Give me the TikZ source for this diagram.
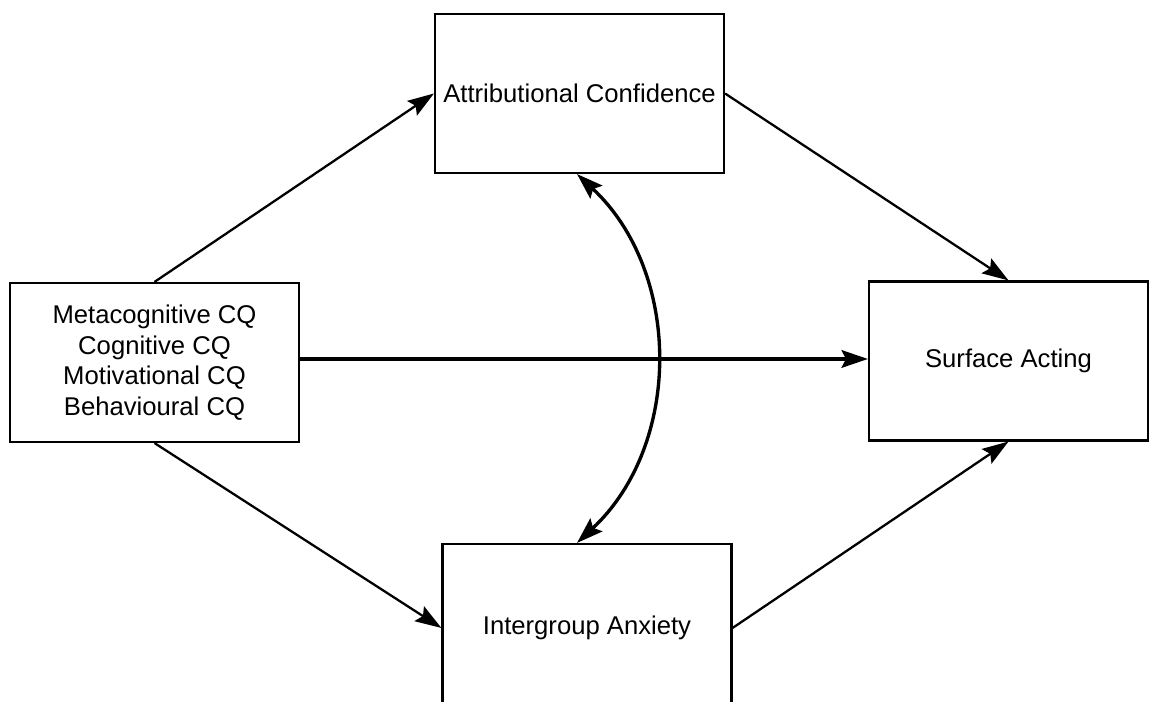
\documentclass[tikz,border=0pt]{standalone}
\usepackage{fontspec}
\setmainfont{Liberation Sans}
\usetikzlibrary{arrows.meta}

\begin{document}
\begin{tikzpicture}[
    construct/.style={draw, line width=1.2pt, minimum width=5.78cm, minimum height=3.18cm, align=center, font=\fontsize{14.6}{17.4}\selectfont},
    >={Stealth[length=15pt,width=10pt,inset=2.5pt]},
    arrow/.style={->, line width=1.3pt}
]
\useasboundingbox (0,0) rectangle (23,14.04);
\node[construct] (cq) at (3.09,6.79) {Metacognitive CQ\\Cognitive CQ\\Motivational CQ\\Behavioural CQ};
\node[construct] (attr) at (11.59,12.17) {Attributional Confidence};
\node[construct, minimum height=3.36cm] (anx) at (11.74,1.48) {Intergroup Anxiety};
\node[construct, minimum width=5.58cm] (sa) at (20.17,6.82) {Surface Acting};

\draw[arrow] (cq.north) -- (attr.west);
\draw[arrow] (cq.south) -- (anx.west);
\draw[arrow] (attr.east) -- (sa.north);
\draw[arrow] (anx.east) -- (sa.south);
\draw[arrow, line width=2pt] ([yshift=2pt]cq.east) -- ([yshift=2pt]cq.east -| sa.west);
\draw[arrow, <->, line width=1.9pt] ([xshift=-0.05cm]attr.south) to[bend left=47] ([xshift=-0.2cm]anx.north);
\end{tikzpicture}
\end{document}
